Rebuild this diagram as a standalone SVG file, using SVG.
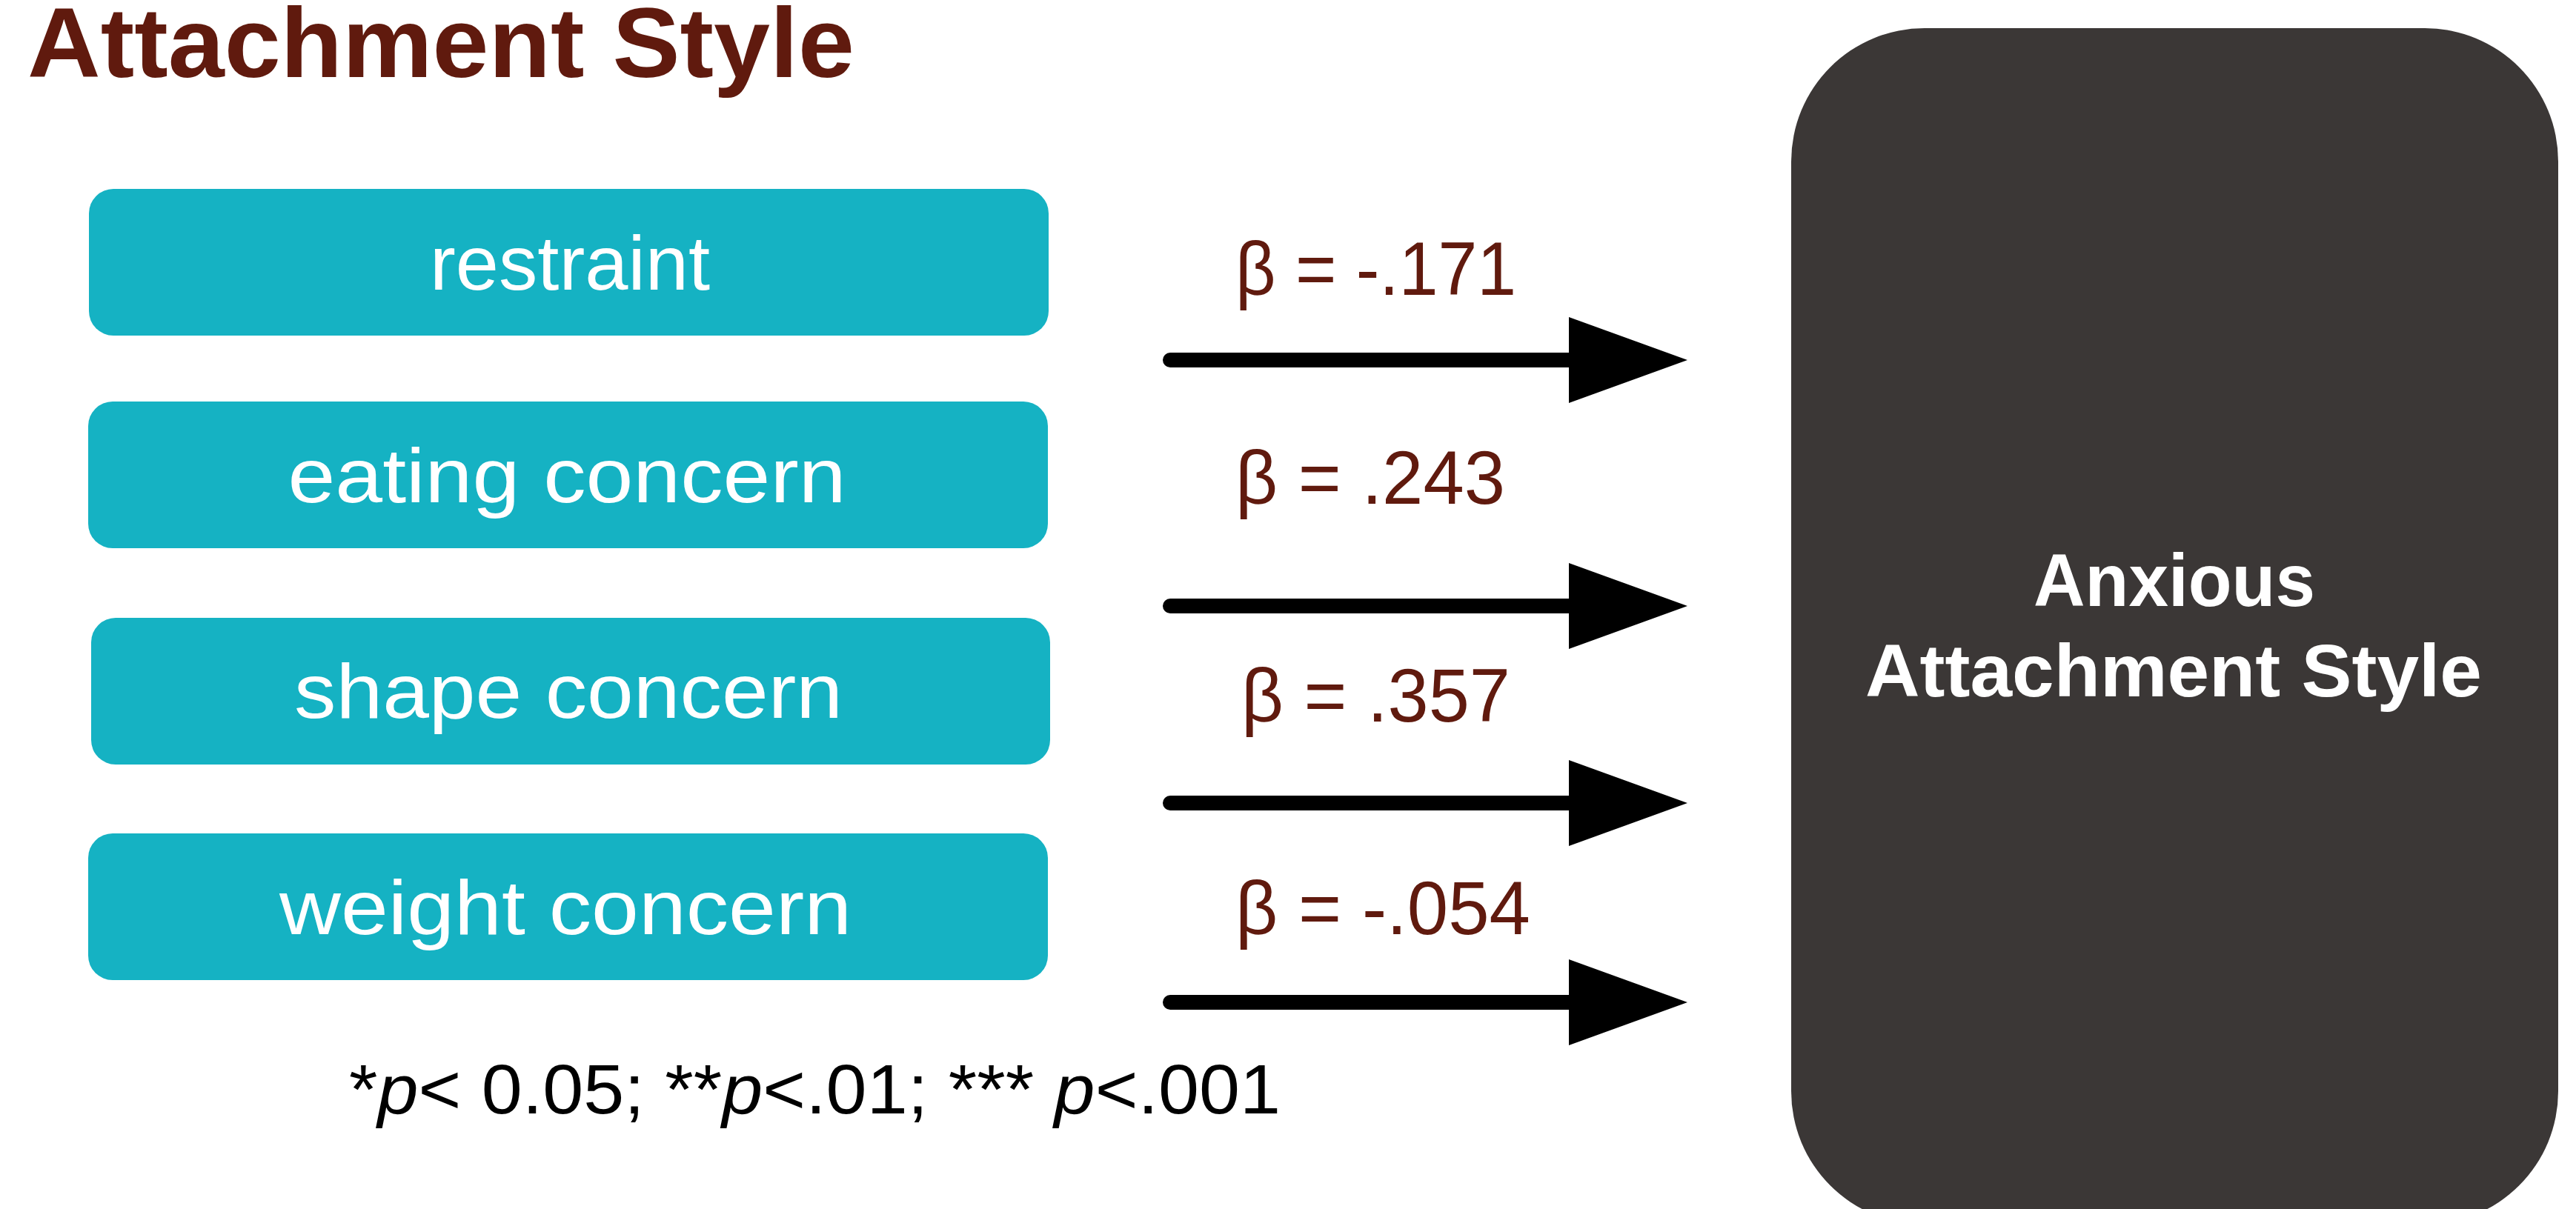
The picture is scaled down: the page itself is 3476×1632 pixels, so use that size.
<svg xmlns="http://www.w3.org/2000/svg" width="3476" height="1632" viewBox="0 0 3476 1632">
  <style>
    .title { font-family: "Liberation Sans", Arial, sans-serif; font-weight: bold; font-size: 134px; fill: #601A0E; }
    .box { fill: #15B2C3; }
    .boxtext { font-family: "Liberation Sans", Arial, sans-serif; font-size: 104px; fill: #FFFFFF; text-anchor: middle; }
    .beta { font-family: "Liberation Sans", Arial, sans-serif; font-size: 102px; fill: #601A0E; }
    .outcome { fill: #3B3736; }
    .outtext { font-family: "Liberation Sans", Arial, sans-serif; font-weight: bold; font-size: 100px; fill: #FFFFFF; text-anchor: middle; }
    .note { font-family: "Liberation Sans", Arial, sans-serif; font-size: 95px; fill: #000000; }
    .shaft { stroke: #000000; stroke-width: 20; stroke-linecap: round; fill: none; }
    .head { fill: #000000; }
  </style>

  <g id="title">
    <text class="title" x="37" y="104" textLength="1116" lengthAdjust="spacingAndGlyphs">Attachment Style</text>
  </g>

  <g id="node-restraint">
    <rect class="box" x="120" y="255" width="1295" height="198" rx="33" ry="33"/>
    <text class="boxtext" x="769" y="391" textLength="378" lengthAdjust="spacingAndGlyphs">restraint</text>
  </g>
  <g id="node-eating">
    <rect class="box" x="119" y="542" width="1295" height="198" rx="33" ry="33"/>
    <text class="boxtext" x="765" y="678" textLength="753" lengthAdjust="spacingAndGlyphs">eating concern</text>
  </g>
  <g id="node-shape">
    <rect class="box" x="123" y="834" width="1294" height="198" rx="33" ry="33"/>
    <text class="boxtext" x="767" y="969" textLength="740" lengthAdjust="spacingAndGlyphs">shape concern</text>
  </g>
  <g id="node-weight">
    <rect class="box" x="119" y="1125" width="1295" height="198" rx="33" ry="33"/>
    <text class="boxtext" x="763" y="1261" textLength="772" lengthAdjust="spacingAndGlyphs">weight concern</text>
  </g>

  <g id="node-outcome">
    <rect class="outcome" x="2417" y="38" width="1035" height="1615" rx="180" ry="180"/>
    <text class="outtext" x="2934" y="818" textLength="380" lengthAdjust="spacingAndGlyphs">Anxious</text>
    <text class="outtext" x="2933" y="940" textLength="832" lengthAdjust="spacingAndGlyphs">Attachment Style</text>
  </g>

  <g id="connectors">
    <line class="shaft" x1="1579" y1="486" x2="2125" y2="486"/>
    <polygon class="head" points="2117,428 2277,486 2117,544"/>
    <line class="shaft" x1="1579" y1="818" x2="2125" y2="818"/>
    <polygon class="head" points="2117,760 2277,818 2117,876"/>
    <line class="shaft" x1="1579" y1="1084" x2="2125" y2="1084"/>
    <polygon class="head" points="2117,1026 2277,1084 2117,1142"/>
    <line class="shaft" x1="1579" y1="1353" x2="2125" y2="1353"/>
    <polygon class="head" points="2117,1295 2277,1353 2117,1411"/>
  </g>

  <g id="labels">
    <text class="beta" x="1667" y="398" textLength="379" lengthAdjust="spacingAndGlyphs">β = -.171</text>
    <text class="beta" x="1667" y="680" textLength="364" lengthAdjust="spacingAndGlyphs">β = .243</text>
    <text class="beta" x="1675" y="974" textLength="363" lengthAdjust="spacingAndGlyphs">β = .357</text>
    <text class="beta" x="1667" y="1261" textLength="398" lengthAdjust="spacingAndGlyphs">β = -.054</text>
  </g>

  <g id="footnote">
    <text class="note" x="471" y="1503" textLength="1257" lengthAdjust="spacingAndGlyphs">*<tspan font-style="italic">p</tspan>&lt; 0.05; **<tspan font-style="italic">p</tspan>&lt;.01; *** <tspan font-style="italic">p</tspan>&lt;.001</text>
  </g>
</svg>
